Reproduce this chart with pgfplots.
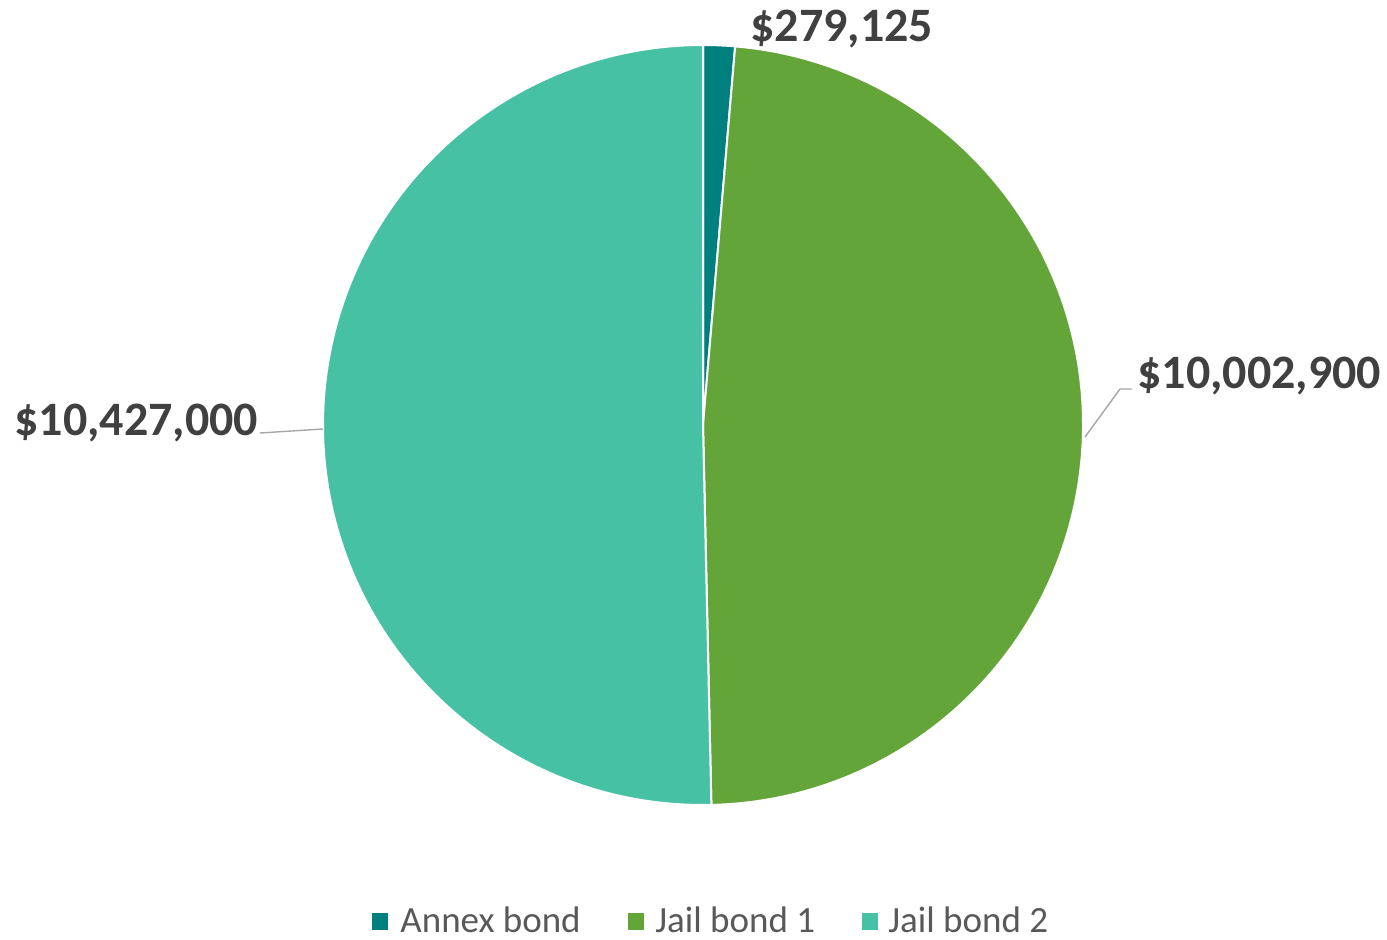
\documentclass[border=0pt]{standalone}
\usepackage{pgfplots}
\pgfplotsset{compat=1.18}
\usepackage{pgfplotstable}
\usepackage{fontspec}
\setmainfont{Carlito}
\definecolor{annex}{HTML}{007F7F}
\definecolor{jailone}{HTML}{64A539}
\definecolor{jailtwo}{HTML}{46C1A3}
\definecolor{lbl}{HTML}{404040}
\definecolor{leg}{HTML}{595959}
\definecolor{leader}{HTML}{A6A6A6}
\pgfplotstableread{
label value
Annex 279125
Jail1 10002900
Jail2 10427000
}\bonddata
\begin{document}
\begin{tikzpicture}
\pgfplotstablegetelem{0}{value}\of\bonddata \let\va\pgfplotsretval
\pgfplotstablegetelem{1}{value}\of\bonddata \let\vb\pgfplotsretval
\pgfplotstablegetelem{2}{value}\of\bonddata \let\vc\pgfplotsretval
\edef\angA{\fpeval{90-360*\va/(\va+\vb+\vc)}}
\edef\angB{\fpeval{\angA-360*\vb/(\va+\vb+\vc)}}
\begin{axis}[x=0.5pt, y=0.5pt, xmin=0, xmax=1387, ymin=0, ymax=939,
  hide axis, clip=false, scale only axis,
  /pgf/number format/assume math mode=true]
\path (axis cs:0,0) rectangle (axis cs:1387,939);
% sectors
\fill[annex, draw=white, line width=1pt] (axis cs:703,514) -- ++(90:190pt) arc[start angle=90, end angle=\angA, radius=190pt] -- cycle;
\fill[jailone, draw=white, line width=1pt] (axis cs:703,514) -- ++(\angA:190pt) arc[start angle=\angA, end angle=\angB, radius=190pt] -- cycle;
\fill[jailtwo, draw=white, line width=1pt] (axis cs:703,514) -- ++(\angB:190pt) arc[start angle=\angB, end angle=-270, radius=190pt] -- cycle;
% leader lines
\draw[leader, line width=0.7pt] (axis cs:1085,502) -- (axis cs:1120,550) -- (axis cs:1132,550);
\draw[leader, line width=0.7pt] (axis cs:260,506) -- (axis cs:323,510);
% data labels
\node[anchor=base west, inner sep=0pt, text=lbl, font=\fontsize{24}{28}\selectfont\bfseries] at (axis cs:750,897) {\$\pgfmathprintnumber[fixed, precision=0, 1000 sep={,}]{\va}};
\node[anchor=base west, inner sep=0pt, text=lbl, font=\fontsize{24}{28}\selectfont\bfseries] at (axis cs:1137,551) {\$\pgfmathprintnumber[fixed, precision=0, 1000 sep={,}]{\vb}};
\node[anchor=base west, inner sep=0pt, text=lbl, font=\fontsize{24}{28}\selectfont\bfseries] at (axis cs:14,504) {\$\pgfmathprintnumber[fixed, precision=0, 1000 sep={,}]{\vc}};
% legend
\fill[annex] (axis cs:372,9) rectangle (axis cs:388,26);
\node[anchor=base west, inner sep=0pt, text=leg, font=\fontsize{18.5}{22}\selectfont] at (axis cs:400,7) {Annex bond};
\fill[jailone] (axis cs:628,9) rectangle (axis cs:644,26);
\node[anchor=base west, inner sep=0pt, text=leg, font=\fontsize{18.5}{22}\selectfont] at (axis cs:655,7) {Jail bond 1};
\fill[jailtwo] (axis cs:862,9) rectangle (axis cs:878,26);
\node[anchor=base west, inner sep=0pt, text=leg, font=\fontsize{18.5}{22}\selectfont] at (axis cs:888,7) {Jail bond 2};
\end{axis}
\end{tikzpicture}
\end{document}
